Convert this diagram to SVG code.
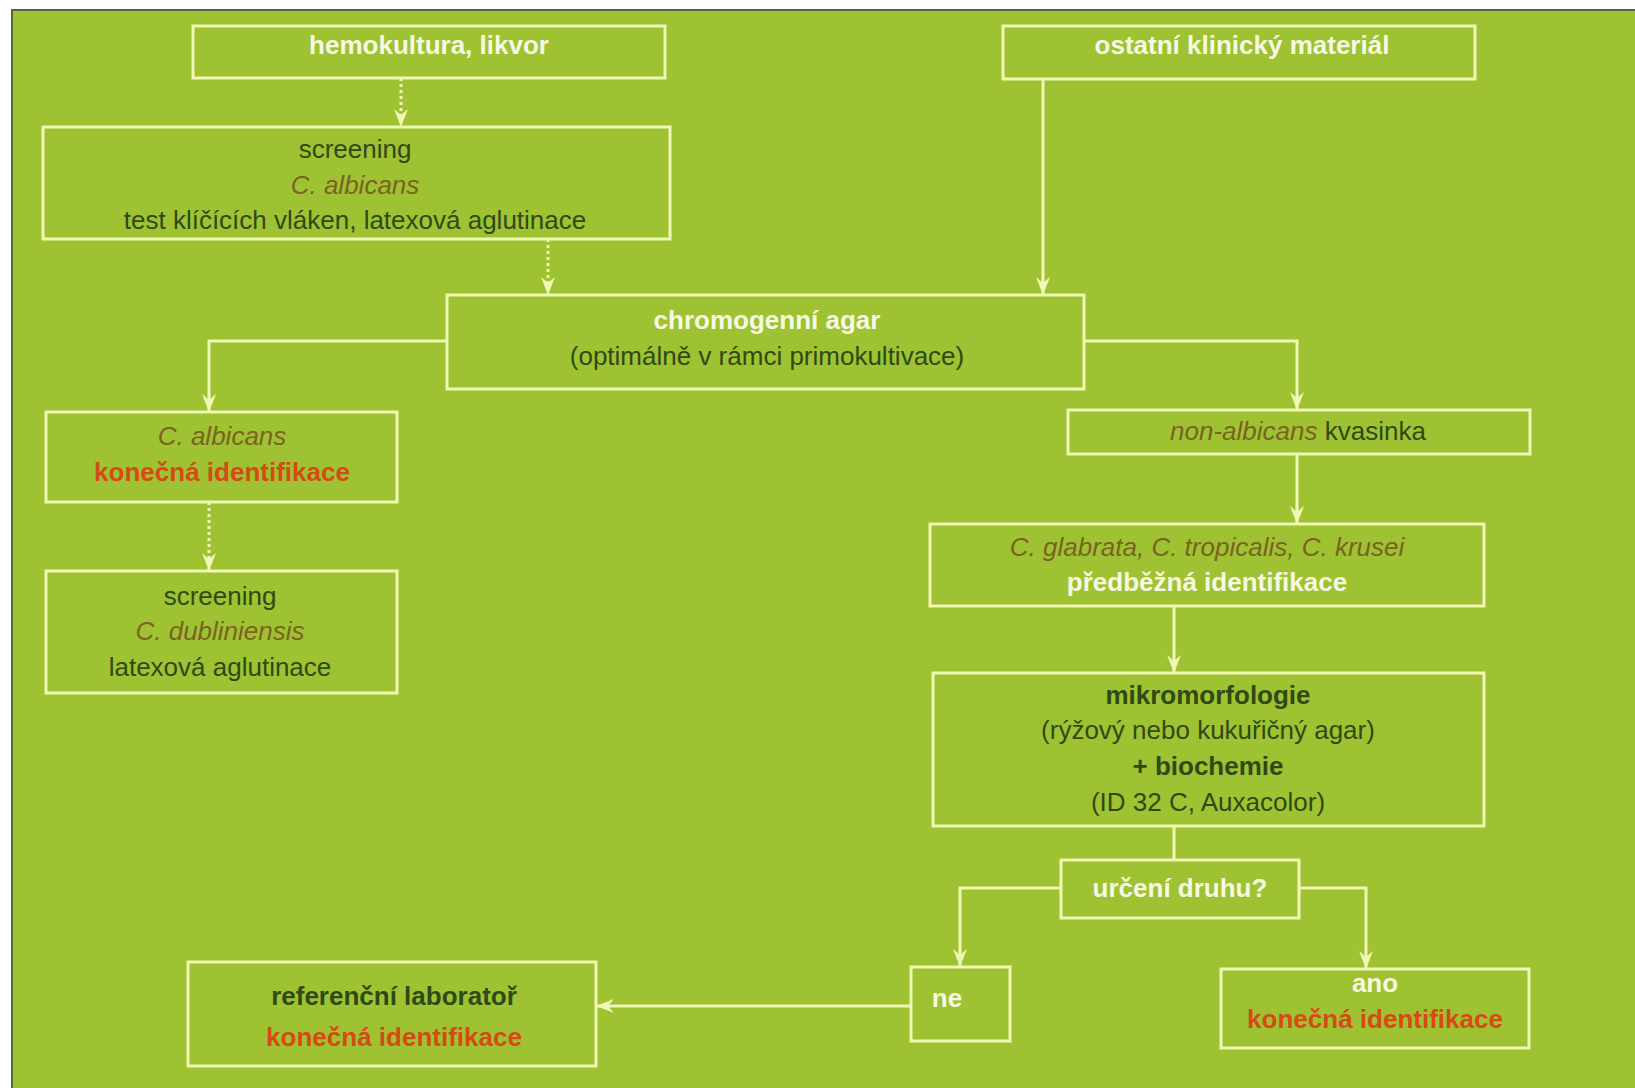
<svg xmlns="http://www.w3.org/2000/svg" width="1635" height="1088" viewBox="0 0 1635 1088">
<defs>
<marker id="arr" markerUnits="userSpaceOnUse" markerWidth="18" markerHeight="14" refX="18" refY="7" orient="auto">
<path d="M0,0 L18,7 L0,14 L6,7 z" fill="#f0f8b4"/>
</marker>
<style>
.box{fill:none;stroke:#f0f8b4;stroke-width:3}
.ln{fill:none;stroke:#f0f8b4;stroke-width:3}
.dot{stroke-dasharray:3 3}
text{font-family:"Liberation Sans",Arial,sans-serif;font-size:26px;text-anchor:middle}
.w{fill:#f6f9e2;font-weight:bold}
.d{fill:#2f4a14}
.db{fill:#2f4a14;font-weight:bold}
.i{fill:#7a6220;font-style:italic}
.r{fill:#d64a16;font-weight:bold}
</style>
</defs>
<rect x="0" y="0" width="1635" height="1088" fill="#ffffff"/>
<rect x="12" y="10" width="1623" height="1078" fill="#9fc232"/>
<path d="M12,1088 V10 H1635" fill="none" stroke="#56663a" stroke-width="2"/>

<g id="connectors">
<path class="ln dot" d="M401,78 V127" marker-end="url(#arr)"/>
<path class="ln dot" d="M548,239 V295" marker-end="url(#arr)"/>
<path class="ln" d="M1043,79 V295" marker-end="url(#arr)"/>
<path class="ln" d="M447,341 H209 V412" marker-end="url(#arr)"/>
<path class="ln" d="M1084,341 H1297 V410" marker-end="url(#arr)"/>
<path class="ln dot" d="M209,502 V571" marker-end="url(#arr)"/>
<path class="ln" d="M1297,454 V524" marker-end="url(#arr)"/>
<path class="ln" d="M1174,606 V673" marker-end="url(#arr)"/>
<path class="ln" d="M1174,826 V860"/>
<path class="ln" d="M1061,888 H960 V967" marker-end="url(#arr)"/>
<path class="ln" d="M1299,888 H1366 V969" marker-end="url(#arr)"/>
<path class="ln" d="M911,1006 H596" marker-end="url(#arr)"/>
</g>

<g id="hemokultura">
<rect class="box" x="193" y="26" width="472" height="52"/>
<text class="w" x="429" y="54">hemokultura, likvor</text>
</g>
<g id="ostatni">
<rect class="box" x="1003" y="26" width="472" height="53"/>
<text class="w" x="1242" y="54">ostatní klinický materiál</text>
</g>
<g id="screening-albicans">
<rect class="box" x="43" y="127" width="627" height="112"/>
<text class="d" x="355" y="158">screening</text>
<text class="i" x="355" y="194">C. albicans</text>
<text class="d" x="355" y="229">test klíčících vláken, latexová aglutinace</text>
</g>
<g id="chromogenni">
<rect class="box" x="447" y="295" width="637" height="94"/>
<text class="w" x="767" y="329">chromogenní agar</text>
<text class="d" x="767" y="365">(optimálně v rámci primokultivace)</text>
</g>
<g id="albicans">
<rect class="box" x="46" y="412" width="351" height="90"/>
<text class="i" x="222" y="445">C. albicans</text>
<text class="r" x="222" y="481">konečná identifikace</text>
</g>
<g id="dubliniensis">
<rect class="box" x="46" y="571" width="351" height="122"/>
<text class="d" x="220" y="605">screening</text>
<text class="i" x="220" y="640">C. dubliniensis</text>
<text class="d" x="220" y="676">latexová aglutinace</text>
</g>
<g id="non-albicans">
<rect class="box" x="1068" y="410" width="462" height="44"/>
<text x="1298" y="440"><tspan class="i">non-albicans</tspan><tspan class="d"> kvasinka</tspan></text>
</g>
<g id="glabrata">
<rect class="box" x="930" y="524" width="554" height="82"/>
<text class="i" x="1207" y="556">C. glabrata, C. tropicalis, C. krusei</text>
<text class="w" x="1207" y="591">předběžná identifikace</text>
</g>
<g id="mikromorfologie">
<rect class="box" x="933" y="673" width="551" height="153"/>
<text class="db" x="1208" y="704">mikromorfologie</text>
<text class="d" x="1208" y="739">(rýžový nebo kukuřičný agar)</text>
<text class="db" x="1208" y="775">+ biochemie</text>
<text class="d" x="1208" y="811">(ID 32 C, Auxacolor)</text>
</g>
<g id="urceni">
<rect class="box" x="1061" y="860" width="238" height="58"/>
<text class="w" x="1180" y="897">určení druhu?</text>
</g>
<g id="ne">
<rect class="box" x="911" y="967" width="99" height="74"/>
<text class="w" x="947" y="1007">ne</text>
</g>
<g id="ano">
<rect class="box" x="1221" y="969" width="308" height="79"/>
<text class="w" x="1375" y="992">ano</text>
<text class="r" x="1375" y="1028">konečná identifikace</text>
</g>
<g id="referencni">
<rect class="box" x="188" y="962" width="408" height="104"/>
<text class="db" x="394" y="1005">referenční laboratoř</text>
<text class="r" x="394" y="1046">konečná identifikace</text>
</g>
</svg>
